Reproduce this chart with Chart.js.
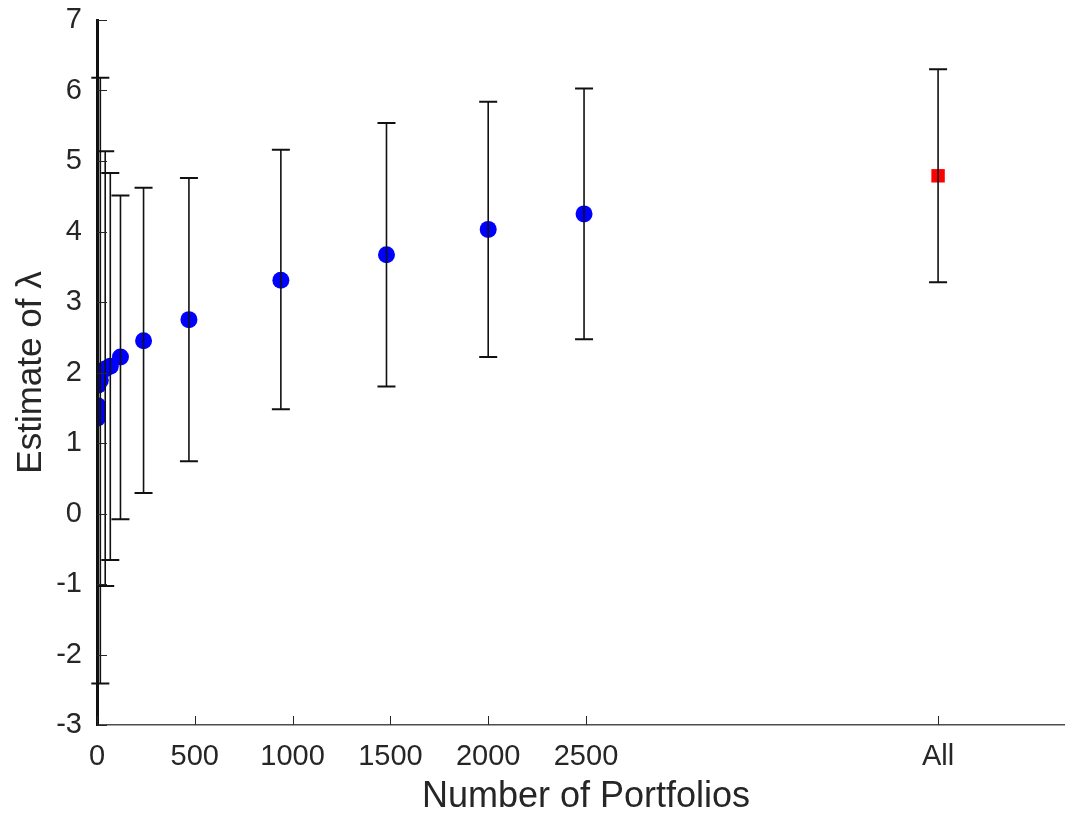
<!DOCTYPE html>
<html>
<head>
<meta charset="utf-8">
<script src="https://cdn.jsdelivr.net/npm/chart.js@4/dist/chart.umd.min.js"></script>
<style>
  html, body { margin: 0; padding: 0; background: #fff; }
  #frame { width: 1065px; height: 813px; overflow: hidden; }
  #lambda-chart { display: block; }
</style>
</head>
<body>
<div id="frame"><canvas id="lambda-chart" width="1075" height="813"></canvas></div>
<script>
"use strict";

// λ estimates by number of portfolios, with confidence bands
const portfolios = [1, 2, 3, 5, 17, 42, 68, 120, 238, 470, 940, 1480, 2000, 2490];
const lambdaEst  = [1.35, 1.44, 1.53, 1.82, 1.89, 2.05, 2.09, 2.22, 2.45, 2.75, 3.31, 3.67, 4.03, 4.25];
const lambdaLo   = [-14, -11, -9, -7, -2.41, -1.03, -0.66, -0.08, 0.29, 0.74, 1.48, 1.80, 2.22, 2.47];
const lambdaHi   = [16, 13, 11, 10, 6.18, 5.14, 4.83, 4.51, 4.62, 4.76, 5.16, 5.54, 5.84, 6.03];

// the "All" column sits on its own slot at the right
const allX = [4300];
const allEst = [4.79];
const allLo = [3.28];
const allHi = [6.30];

const xTickValues = [0, 500, 1000, 1500, 2000, 2500, 4300];
const xTickLabels = ["0", "500", "1000", "1500", "2000", "2500", "All"];

const FONT = "'Liberation Sans', Arial, Helvetica, sans-serif";
const INK = "#262626";

// error bars drawn over the markers, clipped vertically to the axes box
const errorBars = {
  id: "errorBars",
  afterDatasetsDraw(chart) {
    const { ctx, chartArea, scales: { y } } = chart;
    ctx.save();
    ctx.beginPath();
    ctx.rect(0, chartArea.top, chart.width, chartArea.bottom - chartArea.top);
    ctx.clip();
    chart.data.datasets.forEach((ds, di) => {
      const meta = chart.getDatasetMeta(di);
      meta.data.forEach((pt, i) => {
        const yl = y.getPixelForValue(ds.errLo[i]);
        const yh = y.getPixelForValue(ds.errHi[i]);
        ctx.strokeStyle = "#111";
        ctx.lineWidth = 1.6;
        ctx.beginPath();
        ctx.moveTo(pt.x, yl);
        ctx.lineTo(pt.x, yh);
        ctx.stroke();
        ctx.lineWidth = 2;
        ctx.beginPath();
        ctx.moveTo(pt.x - 9, yl); ctx.lineTo(pt.x + 9, yl);
        ctx.moveTo(pt.x - 9, yh); ctx.lineTo(pt.x + 9, yh);
        ctx.stroke();
      });
    });
    ctx.restore();
  },
};

// inward tick marks, matlab style
const innerTicks = {
  id: "innerTicks",
  afterDraw(chart) {
    const { ctx, chartArea, scales: { x, y } } = chart;
    ctx.save();
    ctx.strokeStyle = INK;
    ctx.lineWidth = 1;
    ctx.beginPath();
    y.ticks.forEach((t) => {
      const py = Math.round(y.getPixelForValue(t.value)) + 0.5;
      ctx.moveTo(chartArea.left, py);
      ctx.lineTo(chartArea.left + 10, py);
    });
    x.ticks.forEach((t) => {
      const px = Math.round(x.getPixelForValue(t.value)) + 0.5;
      ctx.moveTo(px, chartArea.bottom);
      ctx.lineTo(px, chartArea.bottom - 9);
    });
    ctx.stroke();
    ctx.restore();
  },
};

new Chart(document.getElementById("lambda-chart"), {
  type: "scatter",
  data: {
    datasets: [
      {
        data: portfolios.map((n, i) => ({ x: n, y: lambdaEst[i] })),
        errLo: lambdaLo, errHi: lambdaHi,
        pointStyle: "circle", pointRadius: 8.5,
        backgroundColor: "#0000ff", borderColor: "#0000ff", borderWidth: 0,
      },
      {
        data: allX.map((n, i) => ({ x: n, y: allEst[i] })),
        errLo: allLo, errHi: allHi,
        pointStyle: "rect", pointRadius: 9.5,
        backgroundColor: "#ff0000", borderColor: "#ff0000", borderWidth: 0,
      },
    ],
  },
  options: {
    responsive: false, animation: false,
    layout: { autoPadding: false, padding: { left: 0, right: 0, top: 20, bottom: 0 } },
    plugins: { legend: { display: false }, tooltip: { enabled: false } },
    scales: {
      x: {
        type: "linear", min: 0, max: 5000,
        afterBuildTicks: (s) => { s.ticks = xTickValues.map((v) => ({ value: v })); },
        afterFit: (s) => { s.height = 88; s.paddingLeft = 0; s.paddingRight = 0; },
        ticks: {
          autoSkip: false, maxRotation: 0, padding: 15, color: INK,
          font: { family: FONT, size: 29 },
          callback: (v, i) => xTickLabels[i],
        },
        grid: { display: false, drawTicks: false },
        border: { display: true, color: "#4d4d4d", width: 1.5 },
        title: {
          display: true, text: "Number of Portfolios", color: INK,
          font: { family: FONT, size: 36, lineHeight: 1 }, padding: { top: 0, bottom: -2 },
        },
      },
      y: {
        min: -3, max: 7,
        afterFit: (s) => { s.width = 97; s.paddingTop = 0; s.paddingBottom = 0; },
        ticks: { stepSize: 1, padding: 15, color: INK, font: { family: FONT, size: 29 } },
        grid: { display: false, drawTicks: false },
        border: { display: true, color: "#111", width: 3 },
        title: {
          display: true, text: "Estimate of λ", color: INK,
          font: { family: FONT, size: 35, lineHeight: 1 }, padding: { top: 14, bottom: 0 },
        },
      },
    },
  },
  plugins: [errorBars, innerTicks],
});
</script>
</body>
</html>
